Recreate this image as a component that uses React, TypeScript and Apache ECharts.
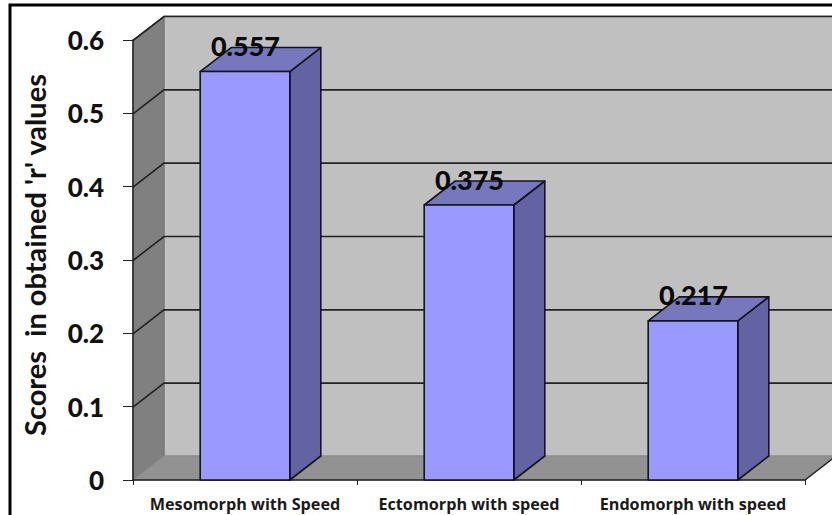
import React, { useEffect, useRef } from "react";
import * as echarts from "echarts";

const categories = ["Mesomorph with Speed", "Ectomorph with speed", "Endomorph with speed"];
const rValues = [0.557, 0.375, 0.217];
const gridValues = [0.1, 0.2, 0.3, 0.4, 0.5, 0.6];
const yAxisTitle = "Scores  in obtained 'r' values";

// Depth of the pseudo-3D box, in pixels
const DEPTH_X = 31;
const DEPTH_Y = 24;
const FONT = "Lato, Carlito, sans-serif";
const EDGE = "#14141f";

function renderWalls(params: any, api: any) {
  const cs = params.coordSys;
  const left = cs.x;
  const right = cs.x + cs.width;
  const top = cs.y;
  const bottom = cs.y + cs.height;
  const children: any[] = [
    {
      type: "polygon",
      shape: { points: [[left + DEPTH_X, top - DEPTH_Y], [right + DEPTH_X, top - DEPTH_Y], [right + DEPTH_X, bottom - DEPTH_Y], [left + DEPTH_X, bottom - DEPTH_Y]] },
      style: { fill: "#c0c0c0", stroke: "#8c8c8c", lineWidth: 1 },
    },
    {
      type: "polygon",
      shape: { points: [[left, top], [left + DEPTH_X, top - DEPTH_Y], [left + DEPTH_X, bottom - DEPTH_Y], [left, bottom]] },
      style: { fill: "#808080", stroke: "#6e6e6e", lineWidth: 1 },
    },
    {
      type: "polygon",
      shape: { points: [[left, bottom], [left + DEPTH_X, bottom - DEPTH_Y], [right + DEPTH_X, bottom - DEPTH_Y], [right, bottom]] },
      style: { fill: "#929292", stroke: "#8a8a8a", lineWidth: 1 },
    },
    {
      type: "line",
      shape: { x1: right, y1: bottom, x2: right + DEPTH_X, y2: bottom - DEPTH_Y },
      style: { stroke: "#222222", lineWidth: 1.5 },
    },
  ];
  gridValues.forEach((v) => {
    const y = api.coord([0, v])[1] + 0.5;
    children.push({
      type: "polyline",
      shape: { points: [[left, y], [left + DEPTH_X, y - DEPTH_Y], [right + DEPTH_X, y - DEPTH_Y]] },
      style: { fill: "none", stroke: "#222222", lineWidth: 1.6 },
    });
  });
  return { type: "group", children };
}

function renderBar(_params: any, api: any) {
  const center = api.coord([api.value(0), api.value(1)]);
  const base = api.coord([api.value(0), 0]);
  const width = api.size([1, 0])[0] * 0.4;
  const x0 = center[0] - width / 2;
  const x1 = center[0] + width / 2;
  const yTop = center[1];
  const yBase = base[1];
  const border = { stroke: EDGE, lineWidth: 1.6, lineJoin: "round" };
  return {
    type: "group",
    children: [
      {
        type: "polygon",
        shape: { points: [[x1, yTop], [x1 + DEPTH_X, yTop - DEPTH_Y], [x1 + DEPTH_X, yBase - DEPTH_Y], [x1, yBase]] },
        style: { fill: "#6363a3", ...border },
      },
      {
        type: "polygon",
        shape: { points: [[x0, yTop], [x0 + DEPTH_X, yTop - DEPTH_Y], [x1 + DEPTH_X, yTop - DEPTH_Y], [x1, yTop]] },
        style: { fill: "#7777bd", ...border },
      },
      {
        type: "polygon",
        shape: { points: [[x0, yTop], [x1, yTop], [x1, yBase], [x0, yBase]] },
        style: { fill: "#9999ff", ...border },
      },
      {
        type: "text",
        style: {
          x: center[0] + 0.5,
          y: yTop - 26,
          text: String(api.value(1)),
          fill: "#0a0a0a",
          font: `900 27px ${FONT}`,
          textAlign: "center",
          textVerticalAlign: "middle",
        },
      },
    ],
  };
}

export default function App() {
  const ref = useRef<HTMLDivElement>(null);

  useEffect(() => {
    document.body.style.margin = "0";
    const chart = echarts.init(ref.current!, undefined, { renderer: "svg" });
    chart.setOption({
      animation: false,
      backgroundColor: "#ffffff",
      grid: { left: 133, right: 27, top: 40, bottom: 35 },
      graphic: [
        {
          type: "rect",
          shape: { x: 10, y: 5, width: 840, height: 530 },
          style: { fill: "none", stroke: "#000000", lineWidth: 3 },
          silent: true,
        },
      ],
      xAxis: {
        type: "category",
        data: categories,
        z: 3,
        axisLine: { lineStyle: { color: "#222222", width: 1.5 } },
        axisTick: { show: true, length: 5, alignWithLabel: false, lineStyle: { color: "#222222", width: 1 } },
        axisLabel: { color: "#1a1a1a", fontFamily: "'Open Sans', sans-serif", fontWeight: "bold", fontSize: 16.2, margin: 16, interval: 0 },
      },
      yAxis: {
        type: "value",
        min: 0,
        max: 0.6,
        interval: 0.1,
        z: 3,
        name: yAxisTitle,
        nameLocation: "middle",
        nameGap: 84,
        nameTextStyle: { color: "#111111", fontFamily: FONT, fontWeight: "bold", fontSize: 29, padding: [0, 0, 0, 10] },
        splitLine: { show: false },
        axisLine: { show: true, lineStyle: { color: "#222222", width: 1.5 } },
        axisTick: { show: true, length: 10, lineStyle: { color: "#222222", width: 1 } },
        axisLabel: {
          color: "#111111",
          fontFamily: FONT,
          fontWeight: 900,
          fontSize: 26,
          margin: 29,
          padding: [2, 0, 0, 0],
          formatter: (v: number) => (v === 0 ? "0" : v.toFixed(1)),
        },
      },
      series: [
        {
          type: "custom",
          z: 1,
          clip: false,
          silent: true,
          renderItem: renderWalls,
          data: [[0, 0]],
          encode: { x: 0, y: 1 },
        },
        {
          type: "custom",
          z: 4,
          clip: false,
          silent: true,
          renderItem: renderBar,
          data: categories.map((_, i) => [i, rValues[i]]),
          encode: { x: 0, y: 1 },
        },
      ],
    });
    return () => chart.dispose();
  }, []);

  return <div ref={ref} style={{ width: 832, height: 515 }} />;
}
